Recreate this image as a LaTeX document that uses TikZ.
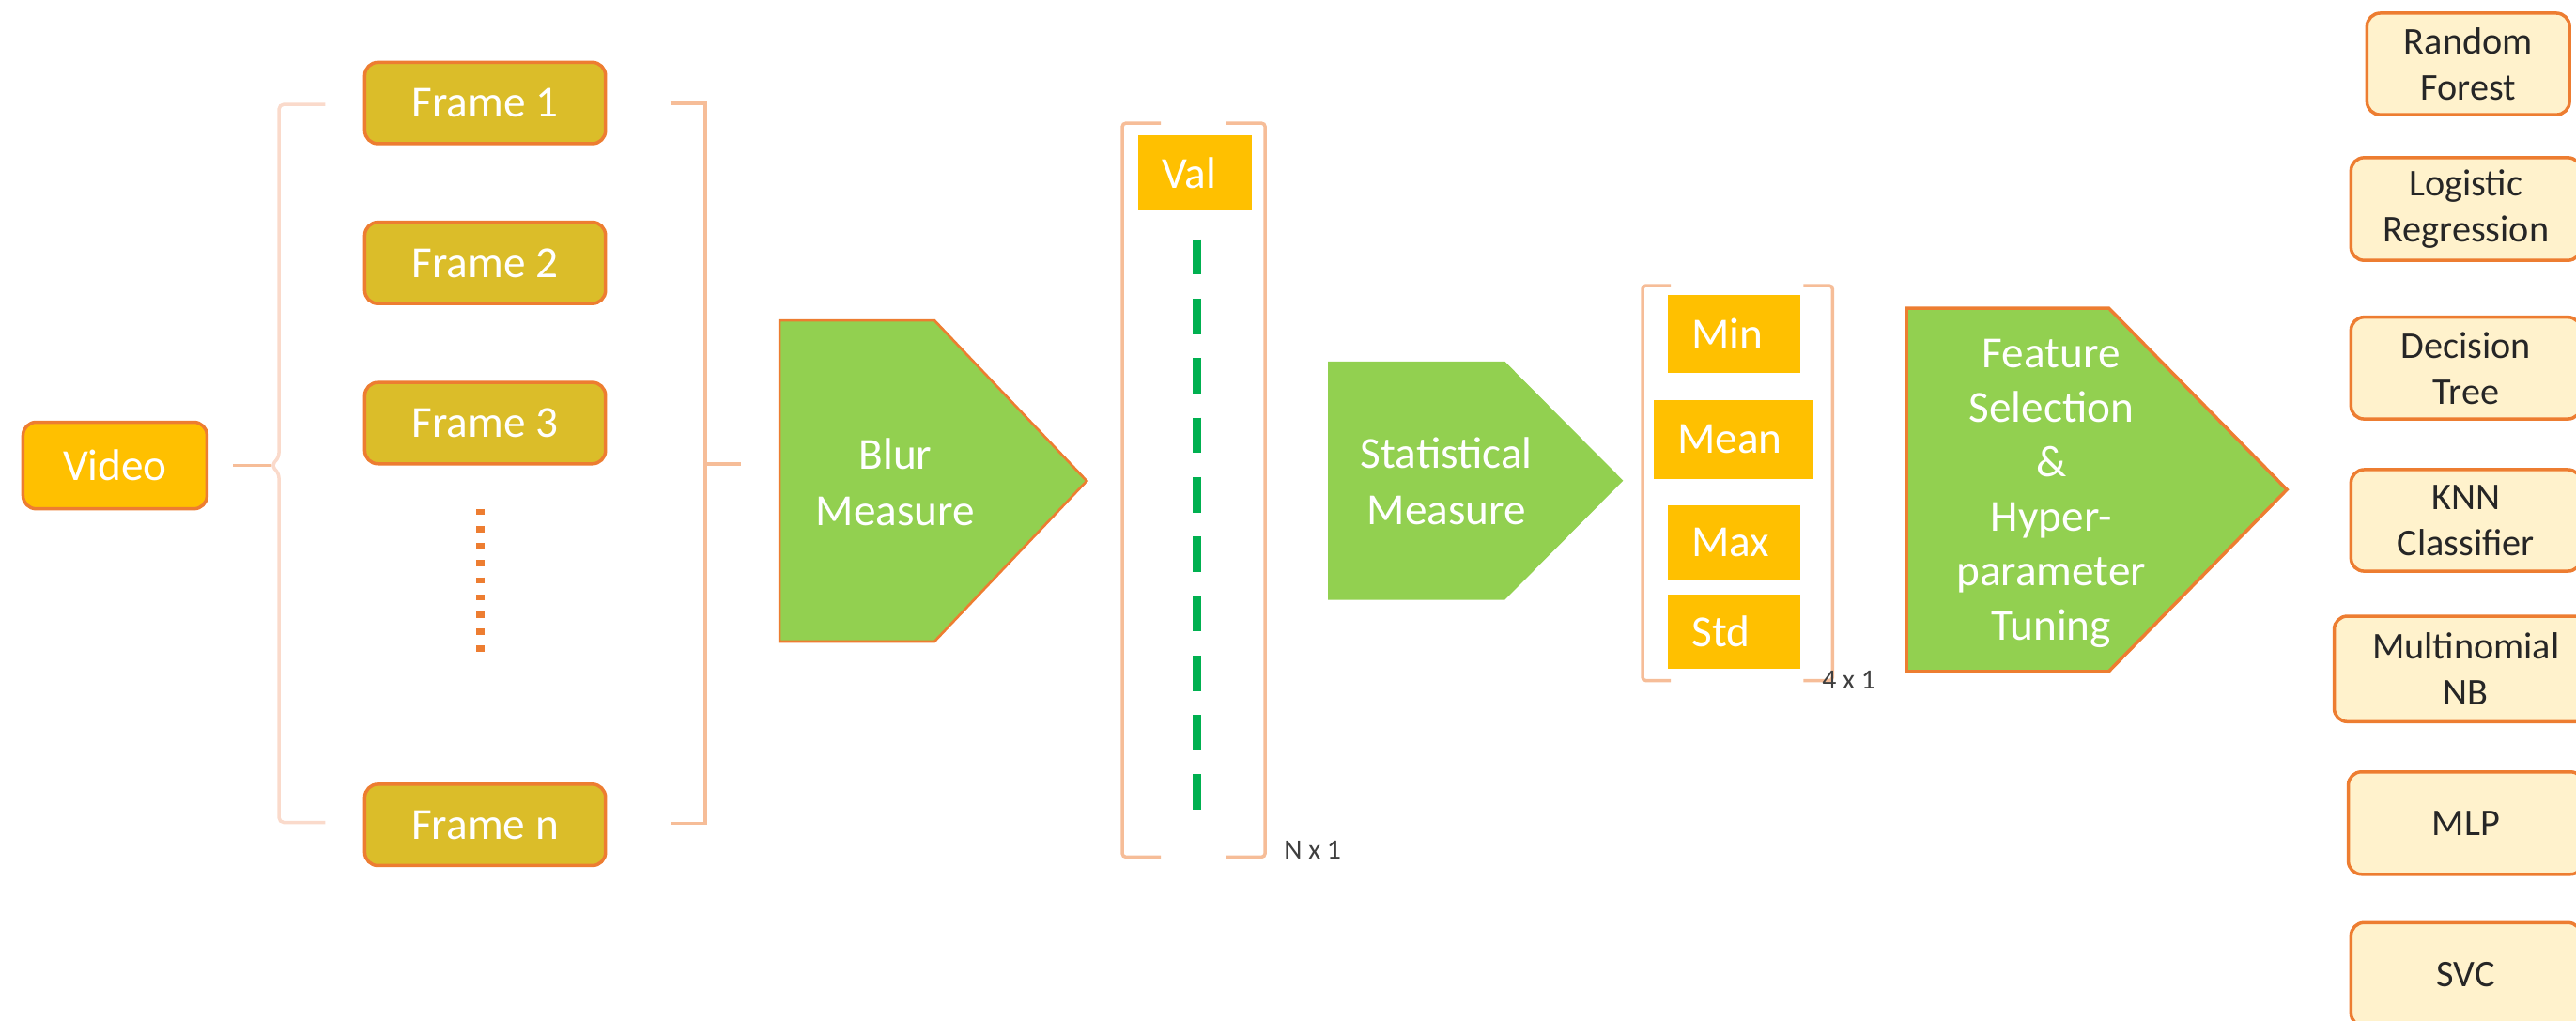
\documentclass[tikz,border=0pt]{standalone}
\usepackage{fontspec}
\setmainfont{Carlito}
\definecolor{edgeorange}{HTML}{ED7D31}
\definecolor{gold}{HTML}{FFC000}
\definecolor{framegold}{RGB}{219,189,41}
\definecolor{leafgreen}{HTML}{92D050}
\definecolor{cream}{HTML}{FFF2CC}
\definecolor{bracepale}{HTML}{FADACB}
\definecolor{bracketpeach}{HTML}{F6BD98}
\definecolor{dashgreen}{HTML}{00B050}
\definecolor{darktext}{HTML}{262626}
\definecolor{labelgray}{HTML}{3F3F3F}

\tikzset{
  mainfont/.style={font=\fontsize{27}{34}\selectfont},
  framebox/.style={draw=edgeorange, line width=2pt, fill=framegold, rounded corners=8pt,
    minimum width=146.5pt, minimum height=49.5pt, inner sep=0pt, text=white, mainfont},
  videobox/.style={draw=edgeorange, line width=2pt, fill=gold, rounded corners=8pt,
    minimum width=112pt, minimum height=52.7pt, inner sep=0pt, text=white, mainfont},
  statbox/.style={fill=gold, inner xsep=14.3pt, inner ysep=0pt, align=left, text=white, mainfont},
  clsbox/.style={draw=edgeorange, line width=2pt, fill=cream, rounded corners=8pt,
    inner sep=0pt, align=center, text=darktext, font=\fontsize{23}{28}\selectfont},
  stagetext/.style={align=center, text=white, inner sep=0pt, mainfont},
  sizelabel/.style={anchor=base west, inner sep=0pt, text=labelgray, font=\fontsize{17}{20}\selectfont},
  paleline/.style={draw=bracepale, line width=2pt},
  peachline/.style={draw=bracketpeach, line width=2pt},
}

\begin{document}
\begin{tikzpicture}[x=1pt, y=-1pt]
\useasboundingbox (0,0) rectangle (1568,621);
\clip (0,0) rectangle (1568,621);

% ---- input video and its frames ----
\node[videobox] (video) at (70,283.3) {Video};

\node[framebox] (f1) at (295.3,62.7) {Frame 1};
\node[framebox] (f2) at (295.3,160.0) {Frame 2};
\node[framebox] (f3) at (295.3,257.5) {Frame 3};
\node[framebox] (fn) at (295.3,502.0) {Frame n};

% vertical ellipsis between frame 3 and frame n
\draw[edgeorange, line width=5pt, dash pattern=on 3.8pt off 6.6pt] (292.5,309.7) -- (292.5,398);

% left curly brace fed by the video
\coordinate (lbtip) at (165,283.3);
\draw[paleline, rounded corners=3pt] (198,63.5) -- (169.8,63.5) -- (169.8,278.5) -- (lbtip)
  -- (169.8,288) -- (169.8,500.5) -- (198,500.5);
\draw[peachline] ([xshift=15pt]video.east) -- (lbtip);

% right bracket collecting the frames
\coordinate (rbmid) at (429.3,282.5);
\coordinate (rbend) at (451,282.5);
\draw[peachline] (408,63) -- (429.3,63) -- (429.3,500.9) -- (408,500.9);
\draw[peachline] (rbmid) -- (rbend);

% ---- blur measure stage ----
\path[fill=leafgreen, draw=edgeorange, line width=1.5pt]
  (474.5,195) -- (568.8,195) -- (661.5,292.7) -- (568.8,390.4) -- (474.5,390.4) -- cycle;
\node[stagetext] (blur) at (545,293.5) {Blur\\Measure};

% N x 1 vector of blur values
\draw[peachline, rounded corners=2pt] (706.6,75) -- (683.2,75) -- (683.2,521.5) -- (706.6,521.5);
\draw[peachline, rounded corners=2pt] (746.6,75) -- (770,75) -- (770,521.5) -- (746.6,521.5);
\node[statbox, text width=69pt-28.6pt, minimum height=45.2pt] (val) at (727.5,105.2) {Val};
\draw[dashgreen, line width=5pt, dash pattern=on 21.7pt off 14.5pt] (728.6,145.5) -- (728.6,494);
\node[sizelabel] (nlabel) at (781.4,523) {N x 1};

% ---- statistical measure stage ----
\path[fill=leafgreen]
  (808.3,220) -- (916,220) -- (988,292.5) -- (916,365) -- (808.3,365) -- cycle;
\node[stagetext] (stat) at (880.5,292.8) {Statistical\\Measure};

% 4 x 1 vector of statistics
\draw[peachline, rounded corners=2pt] (1017,173.8) -- (999.8,173.8) -- (999.8,414.2) -- (1017,414.2);
\draw[peachline, rounded corners=2pt] (1097.7,173.8) -- (1115.4,173.8) -- (1115.4,414.2) -- (1097.7,414.2);
\node[statbox, text width=80.6pt-28.6pt, minimum height=47.3pt] (smin)  at (1055.7,203.2) {Min};
\node[statbox, text width=97.2pt-28.6pt, minimum height=47.8pt] (smean) at (1055.4,267.5) {Mean};
\node[statbox, text width=80.6pt-28.6pt, minimum height=45.4pt] (smax)  at (1055.7,330.3) {Max};
\node[statbox, text width=80.6pt-28.6pt, minimum height=44.8pt] (sstd)  at (1055.7,384.4) {Std};
\node[sizelabel] (flabel) at (1109,419.3) {4 x 1};

% ---- feature selection stage ----
\path[fill=leafgreen, draw=edgeorange, line width=2pt]
  (1160.5,187.5) -- (1283.6,187.5) -- (1392,298) -- (1283.6,408.6) -- (1160.5,408.6) -- cycle;
\node[stagetext, font=\fontsize{27}{33.1}\selectfont] (feat) at (1248.6,300.3)
  {Feature\\Selection\\\&\\Hyper-\\parameter\\Tuning};

% ---- classifiers ----
\node[clsbox, minimum width=123.3pt, minimum height=61.8pt] (rf)  at (1502.4,38.9)  {Random\\Forest};
\node[clsbox, minimum width=140pt,   minimum height=62.5pt] (lr)  at (1501,127.2)   {Logistic\\Regression};
\node[clsbox, minimum width=140pt,   minimum height=62pt]   (dt)  at (1501,224)     {Decision\\Tree};
\node[clsbox, minimum width=140pt,   minimum height=61.8pt] (knn) at (1501,316.7)   {KNN\\Classifier};
\node[clsbox, minimum width=160.4pt, minimum height=64.2pt] (mnb) at (1501,407.1)   {Multinomial\\NB};
\node[clsbox, minimum width=143.2pt, minimum height=62.3pt] (mlp) at (1501,500.9)   {MLP};
\node[clsbox, minimum width=140pt,   minimum height=63pt]   (svc) at (1501,593)     {SVC};
\end{tikzpicture}
\end{document}
